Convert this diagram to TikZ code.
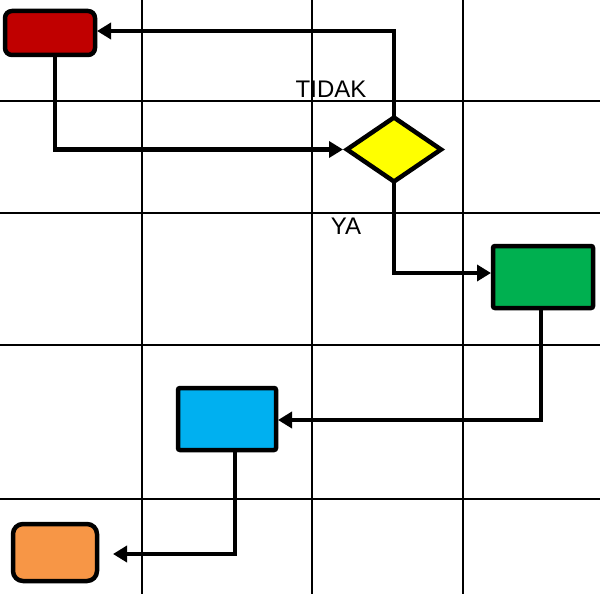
\documentclass[tikz,border=0pt]{standalone}
\usepackage{fontspec}
\setmainfont{Liberation Sans}
\usetikzlibrary{arrows.meta,shapes.geometric}
\definecolor{cred}{HTML}{C00000}
\definecolor{cyellow}{HTML}{FFFF00}
\definecolor{cgreen}{HTML}{00B050}
\definecolor{cblue}{HTML}{00B0F0}
\definecolor{corange}{HTML}{F79646}
\tikzset{
  box/.style={draw=black, line width=4.5pt, minimum width=#1, inner sep=0pt, outer sep=0pt},
  grid line/.style={line width=1.6pt, black},
  conn/.style={line width=4.5pt, -{Triangle[length=14pt,width=16pt]}},
  lbl/.style={font=\fontsize{24}{28}\selectfont, inner sep=0pt}
}
\begin{document}
\begin{tikzpicture}[x=1pt,y=-1pt]
\useasboundingbox (0,0) rectangle (600,594);
\fill[white] (0,0) rectangle (600,594);
% grid
\foreach \gx in {142,312,463} \draw[grid line] (\gx,0) -- (\gx,594);
\foreach \gy in {101,213,345,499} \draw[grid line] (0,\gy) -- (600,\gy);
% nodes
\node[box=90pt, minimum height=44pt, fill=cred, rounded corners=7pt] (red) at (50,33) {};
\node[draw=black, line width=4.5pt, fill=cyellow, diamond, aspect=1.45, minimum width=94pt, minimum height=64pt, inner sep=0pt, outer sep=0pt] (dia) at (394,149.5) {};
\node[box=100pt, minimum height=62pt, fill=cgreen, rounded corners=2pt] (green) at (543,277) {};
\node[box=98pt, minimum height=62pt, fill=cblue, rounded corners=2pt] (blue) at (227,419) {};
\node[box=84pt, minimum height=57pt, fill=corange, rounded corners=10pt] (orange) at (55,552.5) {};
\coordinate (end5) at (113,554);
% labels
\node[lbl] (tidak) at (331,89) {TIDAK};
\node[lbl] (ya) at (346,226) {YA};
% connectors
\draw[conn] (dia.north) |- ([xshift=2pt]red.east |- 0,31);
\draw[conn] ([xshift=5pt]red.south) |- ([xshift=-4pt]dia.west);
\draw[conn] (dia.south) |- ([xshift=-2pt]green.west |- 0,273);
\draw[conn] ([xshift=-2pt]green.south) |- ([xshift=2pt]blue.east |- 0,420);
\draw[conn] ([xshift=8pt]blue.south) |- (end5);
\end{tikzpicture}
\end{document}
